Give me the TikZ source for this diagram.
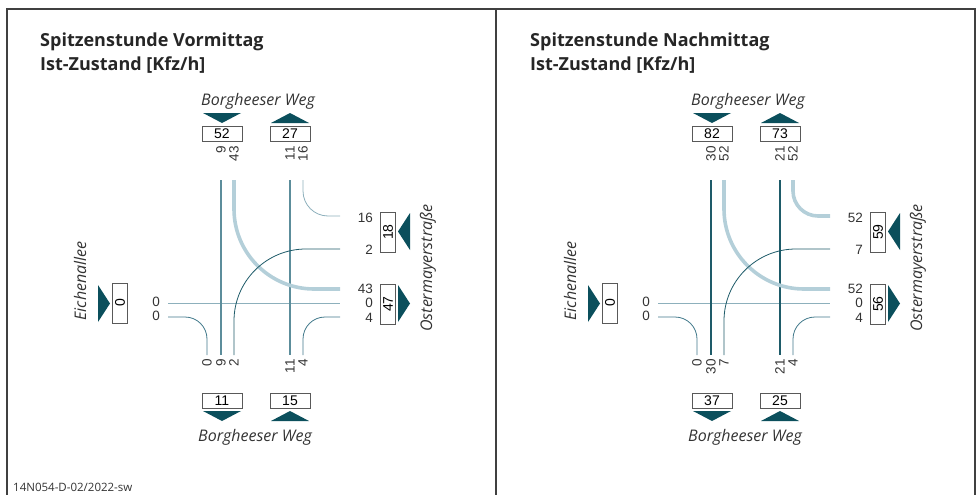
\documentclass[tikz,border=0pt]{standalone}
\usepackage{fontspec}
\setmainfont{Open Sans}
\newfontfamily\numfont{Liberation Sans}
\definecolor{darkteal}{HTML}{0B4F5C}
\definecolor{flowdark}{HTML}{1E5B69}
\definecolor{flowmid}{HTML}{5C8D9B}
\definecolor{flowteal}{HTML}{40788A}
\definecolor{flowlight}{HTML}{B4CFD9}
\definecolor{flowpale}{HTML}{8DB0BC}
\begin{document}
\begin{tikzpicture}[
        x=1pt, y=-1pt,
        font=\numfont\fontsize{13.5}{13.5}\selectfont
    ]
    \tikzset{
        frameline/.style = {draw=black!75, line width=1.6pt},
        titletxt/.style = {anchor=base west, inner sep=0pt, font=\bfseries\fontsize{18}{20}\selectfont, text=black!85},
        streettxt/.style = {inner sep=0pt, font=\itshape\fontsize{16}{16}\selectfont, text=black!80},
        cntbox/.style = {draw=black!65, line width=0.8pt, minimum width=40pt, minimum height=15pt, inner sep=0pt, font=\numfont\fontsize{14}{14}\selectfont},
        numv/.style = {rotate=90, anchor=east, inner sep=0pt, text=black!80},
        numh/.style = {anchor=east, inner sep=0pt, text=black!80},
        tri/.style = {fill=darkteal},
        flowdk/.style = {draw=flowdark, line width=0.8pt},
        flowdkthick/.style = {draw=flowdark, line width=2.6pt},
        flowmd/.style = {draw=flowmid, line width=1.3pt},
        flowtl/.style = {draw=flowteal, line width=0.8pt},
        flowlt/.style = {draw=flowlight, line width=3.6pt},
        flowltthin/.style = {draw=flowpale, line width=0.8pt},
        flowhz/.style = {draw=flowpale, line width=0.9pt},
    }
    \useasboundingbox (0,0) rectangle (978,495);
    % frame
    \draw[frameline] (7,495) -- (7,9) -- (975,9) -- (975,495);
    \draw[frameline] (496,9) -- (496,495);
    \node[anchor=base west, inner sep=0pt, font=\fontsize{11.5}{12}\selectfont, text=black!80] at (13,491) (footer) {14N054-D-02/2022-sw};
    %
    % ---------- Vormittag ----------
    \node[titletxt] at (40,47) (atitle) {Spitzenstunde Vormittag};
    \node[titletxt] at (40,71) (asub) {Ist-Zustand [Kfz/h]};
    % lanes
    \draw[flowhz] (168,303) -- (340,303);
    \draw[flowmd] (221,180) -- (221,355);
    \draw[flowmd] (290,180) -- (290,355);
    \draw[flowlt, rounded corners=80pt] (234,180) -- (234,289) -- (340,289);
    \draw[flowdk, rounded corners=72pt] (234,355) -- (234,249) -- (340,249);
    \draw[flowltthin, rounded corners=25pt] (303,180) -- (303,216) -- (340,216);
    \draw[flowtl, rounded corners=22pt] (303,355) -- (303,317) -- (340,317);
    \draw[flowtl, rounded corners=22pt] (168,317) -- (207,317) -- (207,355);
    % north arm
    \node[streettxt] at (258,101) (anorth) {Borgheeser Weg};
    \fill[tri] (203,113) -- (241,113) -- (222,123) -- cycle;
    \fill[tri] (271,123) -- (309,123) -- (290,113) -- cycle;
    \node[cntbox] at (222,133.5) (anin) {52};
    \node[cntbox] at (290,133.5) (anout) {27};
    \node[numv] at (221,146) (an1) {9};
    \node[numv] at (234,146) (an2) {43};
    \node[numv] at (290,146) (an3) {11};
    \node[numv] at (303,146) (an4) {16};
    % south arm
    \node[numv] at (207,359) (as1) {0};
    \node[numv] at (221,359) (as2) {9};
    \node[numv] at (234,359) (as3) {2};
    \node[numv] at (290,359) (as4) {11};
    \node[numv] at (303,359) (as5) {4};
    \node[cntbox] at (222,400.5) (asout) {11};
    \node[cntbox] at (290,400.5) (asin) {15};
    \fill[tri] (203,411) -- (241,411) -- (222,421) -- cycle;
    \fill[tri] (271,421) -- (309,421) -- (290,411) -- cycle;
    \node[streettxt] at (255,437) (asouth) {Borgheeser Weg};
    % east arm
    \node[numh] at (373,218) (ae1) {16};
    \node[numh] at (373,250) (ae2) {2};
    \node[numh] at (373,289) (ae3) {43};
    \node[numh] at (373,303) (ae4) {0};
    \node[numh] at (373,318) (ae5) {4};
    \node[cntbox, rotate=90] at (388,232) (aein) {18};
    \node[cntbox, rotate=90] at (388,304) (aeout) {47};
    \fill[tri] (410,213) -- (410,250) -- (398,231.5) -- cycle;
    \fill[tri] (398,285) -- (398,322) -- (410,303.5) -- cycle;
    \node[streettxt, rotate=90] at (428,268) (aeast) {Ostermayerstraße};
    % west arm
    \node[streettxt, rotate=90] at (80,281) (awest) {Eichenallee};
    \fill[tri] (98,285) -- (98,322) -- (110,303.5) -- cycle;
    \node[cntbox, rotate=90] at (120,303) (awin) {0};
    \node[numh] at (160,302) (aw1) {0};
    \node[numh] at (160,316) (aw2) {0};
    %
    % ---------- Nachmittag ----------
    \node[titletxt] at (530,47) (btitle) {Spitzenstunde Nachmittag};
    \node[titletxt] at (530,71) (bsub) {Ist-Zustand [Kfz/h]};
    % lanes
    \draw[flowhz] (658,303) -- (830,303);
    \draw[flowdkthick] (711,180) -- (711,355);
    \draw[flowdkthick] (780,180) -- (780,355);
    \draw[flowlt, rounded corners=80pt] (724,180) -- (724,289) -- (830,289);
    \draw[flowdk, rounded corners=72pt] (724,355) -- (724,249) -- (830,249);
    \draw[flowlt, rounded corners=25pt] (793,180) -- (793,216) -- (830,216);
    \draw[flowtl, rounded corners=22pt] (793,355) -- (793,317) -- (830,317);
    \draw[flowtl, rounded corners=22pt] (658,317) -- (697,317) -- (697,355);
    % north arm
    \node[streettxt] at (748,101) (bnorth) {Borgheeser Weg};
    \fill[tri] (693,113) -- (731,113) -- (712,123) -- cycle;
    \fill[tri] (761,123) -- (799,123) -- (780,113) -- cycle;
    \node[cntbox] at (712,133.5) (bnin) {82};
    \node[cntbox] at (780,133.5) (bnout) {73};
    \node[numv] at (711,146) (bn1) {30};
    \node[numv] at (724,146) (bn2) {52};
    \node[numv] at (780,146) (bn3) {21};
    \node[numv] at (793,146) (bn4) {52};
    % south arm
    \node[numv] at (697,359) (bs1) {0};
    \node[numv] at (711,359) (bs2) {30};
    \node[numv] at (724,359) (bs3) {7};
    \node[numv] at (780,359) (bs4) {21};
    \node[numv] at (793,359) (bs5) {4};
    \node[cntbox] at (712,400.5) (bsout) {37};
    \node[cntbox] at (780,400.5) (bsin) {25};
    \fill[tri] (693,411) -- (731,411) -- (712,421) -- cycle;
    \fill[tri] (761,421) -- (799,421) -- (780,411) -- cycle;
    \node[streettxt] at (745,437) (bsouth) {Borgheeser Weg};
    % east arm
    \node[numh] at (863,218) (be1) {52};
    \node[numh] at (863,250) (be2) {7};
    \node[numh] at (863,289) (be3) {52};
    \node[numh] at (863,303) (be4) {0};
    \node[numh] at (863,318) (be5) {4};
    \node[cntbox, rotate=90] at (878,232) (bein) {59};
    \node[cntbox, rotate=90] at (878,304) (beout) {56};
    \fill[tri] (900,213) -- (900,250) -- (888,231.5) -- cycle;
    \fill[tri] (888,285) -- (888,322) -- (900,303.5) -- cycle;
    \node[streettxt, rotate=90] at (918,268) (beast) {Ostermayerstraße};
    % west arm
    \node[streettxt, rotate=90] at (570,281) (bwest) {Eichenallee};
    \fill[tri] (588,285) -- (588,322) -- (600,303.5) -- cycle;
    \node[cntbox, rotate=90] at (610,303) (bwin) {0};
    \node[numh] at (650,302) (bw1) {0};
    \node[numh] at (650,316) (bw2) {0};
\end{tikzpicture}
\end{document}
